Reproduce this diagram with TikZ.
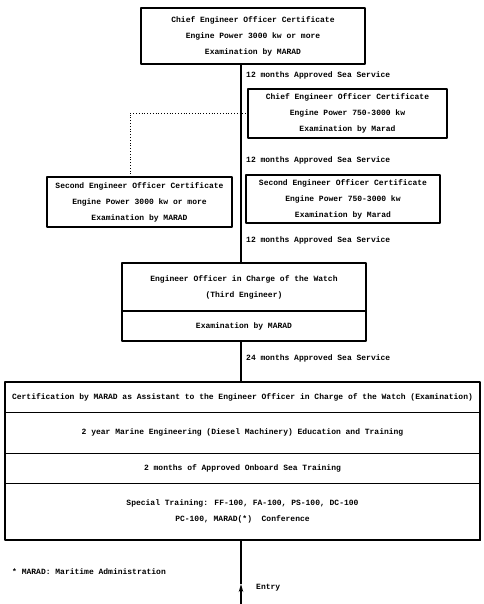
\documentclass[tikz,border=0pt]{standalone}
\usepackage{fontspec}
\newfontfamily\typewr{Liberation Mono}
\usetikzlibrary{positioning,arrows.meta}
\begin{document}
\begin{tikzpicture}[x=1pt,y=-1pt,>={Stealth[length=8pt,width=4.5pt]},line join=round,
  font={\typewr\bfseries\fontsize{8}{16}\selectfont},
  cert/.style={draw,line width=1.4pt,align=center,inner sep=0pt,outer sep=0pt},
  part/.style={draw,line width=0.9pt,align=center,inner sep=0pt,outer sep=0pt,minimum width=#1},
  trunkline/.style={line width=1.2pt}]
\useasboundingbox (0,0) rectangle (483,604);
% certificates
\node[cert,minimum width=224pt,minimum height=56pt] (chiefA) at (253,36)
  {Chief Engineer Officer Certificate\\Engine Power 3000 kw or more\\Examination by MARAD};
\node[cert,minimum width=199pt,minimum height=49pt] (chiefB) at (347.5,113.5)
  {Chief Engineer Officer Certificate\\Engine Power 750-3000 kw\\Examination by Marad};
\node[cert,minimum width=185pt,minimum height=50pt] (secA) at (139.5,202)
  {Second Engineer Officer Certificate\\Engine Power 3000 kw or more\\Examination by MARAD};
\node[cert,minimum width=194pt,minimum height=48pt] (secB) at (343,199)
  {Second Engineer Officer Certificate\\Engine Power 750-3000 kw\\Examination by Marad};
% watch officer
\node[part=244pt,line width=1.2pt,minimum height=48pt] (eow) at (244,287)
  {Engineer Officer in Charge of the Watch\\(Third Engineer)};
\node[part=244pt,line width=1.2pt,minimum height=30pt,below=0pt of eow] (eoexam) {Examination by MARAD};
% entry level
\node[part=475pt,minimum height=30pt] (bcert) at (242.5,397)
  {Certification by MARAD as Assistant to the Engineer Officer in Charge of the Watch (Examination)};
\node[part=475pt,minimum height=41pt,below=0pt of bcert] (bedu)
  {2 year Marine Engineering (Diesel Machinery) Education and Training};
\node[part=475pt,minimum height=30pt,below=0pt of bedu] (bsea) {2 months of Approved Onboard Sea Training};
\node[part=475pt,minimum height=57pt,below=0pt of bsea] (bspec)
  {Special Training: FF-100, FA-100, PS-100, DC-100\\PC-100, MARAD(*)\ \ Conference};
\draw[line width=1.4pt] (bcert.north west) rectangle (bspec.south east);
% connectors
\path (241,0) coordinate (trunk)
  (130,113) coordinate (dotbend)
  (241,584) coordinate (entrytip)
  (241,604) coordinate (entrybot);
\draw[trunkline] (chiefA.south -| trunk) -- (eow.north -| trunk);
\draw[trunkline] (eoexam.south -| trunk) -- (bcert.north -| trunk);
\draw[trunkline,->] (entrybot) -- (entrytip);
\draw[trunkline] (entrytip) -- (bspec.south -| trunk);
\draw[dotted,line width=0.8pt] (secA.north -| dotbend) -- (dotbend) -- (dotbend -| chiefB.west);
% labels
\foreach \y/\n in {75/12,160/12,240/12,358/24}
  \node[anchor=west,inner sep=0pt] (sea\y) at (246,\y) {\n{} months Approved Sea Service};
\node[anchor=west,inner sep=0pt] (entry) at (256,588) {Entry};
\node[anchor=west,inner sep=0pt] (note) at (12,572) {* MARAD: Maritime Administration};
\end{tikzpicture}
\end{document}
